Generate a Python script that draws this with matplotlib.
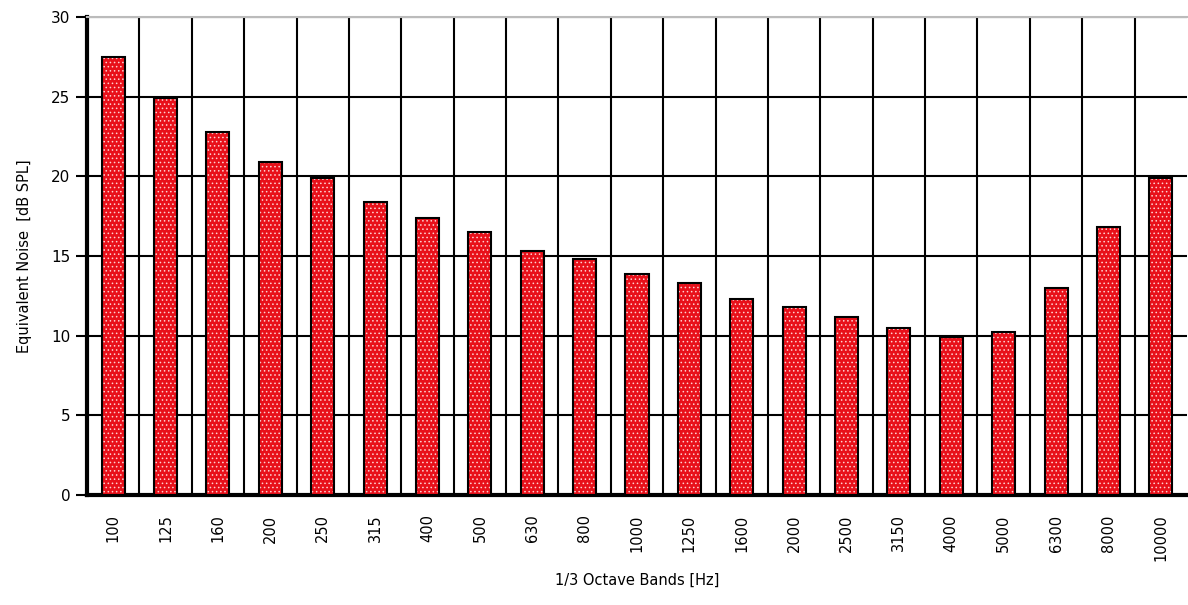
import matplotlib
matplotlib.use("Agg")
import matplotlib.pyplot as plt
import numpy as np

bands = ["100", "125", "160", "200", "250", "315", "400", "500", "630", "800", "1000",
         "1250", "1600", "2000", "2500", "3150", "4000", "5000", "6300", "8000", "10000"]
noise = [27.5, 24.9, 22.8, 20.9, 19.9, 18.4, 17.4, 16.5, 15.3, 14.8, 13.9,
         13.3, 12.3, 11.8, 11.2, 10.5, 9.9, 10.2, 13.0, 16.8, 19.9]
yticks = [0, 5, 10, 15, 20, 25, 30]

plt.rcParams['font.family'] = ['DejaVu Sans']
plt.rcParams['hatch.linewidth'] = 0.6

fig = plt.figure(figsize=(11.88, 6.05), dpi=100)
ax = fig.add_axes([87/1188, 110/605, 1100/1188, 478/605])

x = np.arange(len(bands))
ax.bar(x, noise, width=0.44, color='#e8101a', edgecolor='#ffd0d0', hatch='....',
       linewidth=0, zorder=3)
ax.bar(x, noise, width=0.44, facecolor='none', edgecolor='black', linewidth=1.5, zorder=4)

ax.set_xlim(-0.5, len(bands) - 0.5)
ax.set_ylim(0, 30)
ax.set_yticks(yticks)
ax.set_xticks(x)
ax.set_xticklabels(bands, rotation=90, fontsize=10.5)
ax.tick_params(axis='y', labelsize=11, length=8, width=1.5, direction='out', pad=4)
ax.tick_params(axis='x', length=0, pad=14)

for yv in yticks[1:]:
    ax.axhline(yv, color='black', linewidth=1.5, zorder=1)
for xv in np.arange(0.5, len(bands) - 0.5, 1):
    ax.axvline(xv, color='black', linewidth=1.5, zorder=1)

ax.spines['left'].set_linewidth(3)
ax.spines['bottom'].set_linewidth(3)
ax.spines['right'].set_visible(False)
ax.spines['top'].set_color('#bbbbbb')
ax.spines['top'].set_linewidth(1.5)

ax.set_ylabel("Equivalent Noise  [dB SPL]", fontsize=10.5, labelpad=14)
ax.set_xlabel("1/3 Octave Bands [Hz]", fontsize=10.5, labelpad=8)

fig.savefig("out.png", dpi=100)
